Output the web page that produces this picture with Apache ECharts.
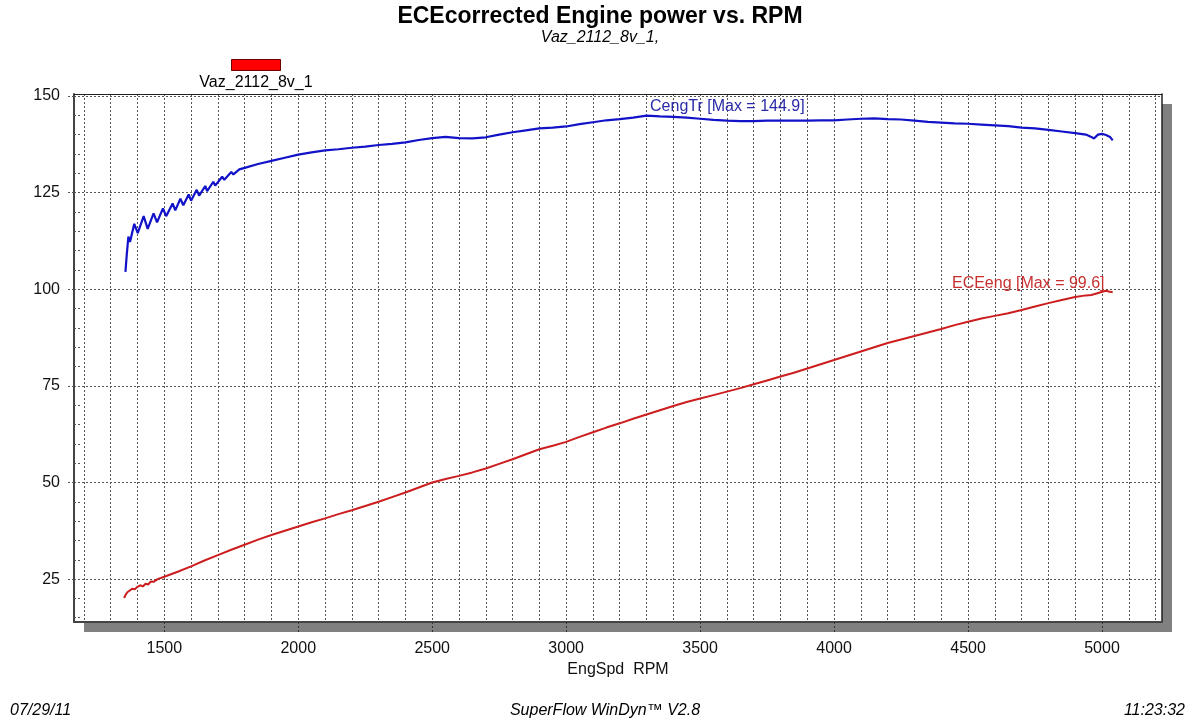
<!DOCTYPE html>
<html>
<head>
<meta charset="utf-8">
<title>ECEcorrected Engine power vs. RPM</title>
<script src="https://cdn.jsdelivr.net/npm/echarts@6/dist/echarts.min.js"></script>
<style>
  html, body { margin: 0; padding: 0; background: #ffffff; }
  #chart { width: 1200px; height: 720px; }
</style>
</head>
<body>
<div id="chart"></div>
<script>
// ---- data ----
const torqueRpm = [1355,1360,1366,1372,1388,1401,1423,1438,1460,1473,1495,1507,1531,1541,1560,1571,1591,1600,1621,1630,1653,1660,1683,1690,1716,1724,1750,1758,1780,1800,1850,1900,1950,2000,2050,2100,2150,2200,2250,2300,2350,2400,2450,2500,2550,2600,2650,2700,2750,2800,2850,2900,2950,3000,3050,3100,3150,3200,3250,3300,3350,3400,3450,3500,3550,3600,3650,3700,3750,3800,3850,3900,3950,4000,4050,4100,4150,4200,4250,4300,4350,4400,4450,4500,4550,4600,4650,4700,4750,4800,4850,4900,4940,4960,4970,4985,5000,5015,5030,5040];
const torqueVal = [104.5,109.0,113.6,112.2,116.9,114.5,118.9,115.6,119.6,117.3,120.9,118.9,122.2,120.4,123.4,121.7,124.5,122.9,125.7,124.2,126.7,125.4,127.8,126.8,129.1,128.3,130.3,129.7,131.0,131.4,132.4,133.2,134.0,134.8,135.4,135.9,136.2,136.6,136.9,137.3,137.6,138.0,138.6,139.1,139.4,139.1,139.0,139.3,140.0,140.6,141.1,141.6,141.8,142.1,142.7,143.2,143.7,144.0,144.4,144.9,144.7,144.6,144.4,144.1,143.8,143.6,143.5,143.5,143.6,143.6,143.6,143.6,143.7,143.7,143.9,144.1,144.2,144.0,143.9,143.6,143.3,143.1,142.9,142.8,142.6,142.4,142.2,141.8,141.6,141.2,140.8,140.4,140.0,139.4,139.0,140.0,140.2,139.9,139.4,138.5];

const powerRpm = [1350,1356,1362,1370,1380,1390,1400,1410,1420,1430,1440,1450,1460,1475,1500,1550,1600,1650,1700,1750,1800,1850,1900,1950,2000,2050,2100,2150,2200,2250,2300,2350,2400,2450,2500,2550,2600,2650,2700,2750,2800,2850,2900,2950,3000,3050,3100,3150,3200,3250,3300,3350,3400,3450,3500,3550,3600,3650,3700,3750,3800,3850,3900,3950,4000,4050,4100,4150,4200,4250,4300,4350,4400,4450,4500,4550,4600,4650,4700,4750,4800,4850,4900,4940,4960,4980,4995,5005,5015,5025,5040];
const powerVal = [20.1,21.0,21.6,22.0,22.5,22.4,23.0,23.4,23.1,23.8,23.6,24.4,24.3,25.0,25.6,26.9,28.3,29.8,31.2,32.6,33.9,35.2,36.4,37.5,38.6,39.7,40.7,41.8,42.8,43.9,45.0,46.2,47.4,48.7,50.0,50.9,51.7,52.6,53.6,54.8,56.0,57.3,58.6,59.5,60.5,61.8,63.0,64.2,65.3,66.5,67.6,68.7,69.8,70.8,71.7,72.6,73.5,74.4,75.4,76.4,77.4,78.4,79.5,80.6,81.7,82.8,83.9,85.0,86.1,87.0,87.9,88.8,89.7,90.7,91.6,92.4,93.1,93.8,94.6,95.5,96.4,97.2,98.0,98.4,98.5,98.9,99.2,99.4,99.6,99.4,99.2];

const xLabelTicks = [1500,2000,2500,3000,3500,4000,4500,5000];
const xGridTicks = [1200,1300,1400,1500,1600,1700,1800,1900,2000,2100,2200,2300,2400,2500,2600,2700,2800,2900,3000,3100,3200,3300,3400,3500,3600,3700,3800,3900,4000,4100,4200,4300,4400,4500,4600,4700,4800,4900,5000,5100,5200];
const yMajorTicks = [25,50,75,100,125,150];
const yMinorTicks = [15,20,30,35,40,45,55,60,65,70,80,85,90,95,105,110,115,120,130,135,140,145];

const runName = 'Vaz_2112_8v_1';
const torqueName = 'CengTr';
const powerName = 'ECEeng';

const torqueData = torqueRpm.map((r, i) => [r, torqueVal[i]]);
const powerData = powerRpm.map((r, i) => [r, powerVal[i]]);

const FONT = '"Liberation Sans", Arial, Helvetica, sans-serif';
const dotted = { color: '#555555', width: 1, type: [2, 2] };
const X_MIN = 1163, X_MAX = 5224, Y_MIN = 13.9, Y_MAX = 150.5;

const chart = echarts.init(document.getElementById('chart'), null, { renderer: 'canvas' });

const frameAxisX = {
  type: 'value', min: X_MIN, max: X_MAX, position: 'top',
  axisLine: { show: true, onZero: false, lineStyle: { color: '#222222', width: 1 } },
  axisTick: { show: false }, axisLabel: { show: false }, splitLine: { show: false }
};
const frameAxisY = {
  type: 'value', min: Y_MIN, max: Y_MAX, position: 'right',
  axisLine: { show: true, onZero: false, lineStyle: { color: '#222222', width: 1.5 } },
  axisTick: { show: false }, axisLabel: { show: false }, splitLine: { show: false }
};

const option = {
  animation: false,
  backgroundColor: '#ffffff',
  textStyle: { fontFamily: FONT },
  title: [
    { text: 'ECEcorrected Engine power vs. RPM', left: 'center', top: 5, padding: 0,
      textStyle: { fontFamily: FONT, fontSize: 23, fontWeight: 'bold', color: '#000' } },
    { text: 'Vaz_2112_8v_1,', left: 'center', top: 30, padding: 0,
      textStyle: { fontFamily: FONT, fontSize: 16, fontStyle: 'italic', fontWeight: 'normal', color: '#000' } }
  ],
  legend: {
    left: 226, top: 54,
    itemWidth: 49, itemHeight: 11,
    formatter: () => '',
    data: [{ name: runName, icon: 'rect', itemStyle: { color: '#ff0000', borderColor: '#700000', borderWidth: 1 } }]
  },
  graphic: [
    { type: 'text', x: 256, y: 82.5, silent: true,
      style: { text: runName, fill: '#000', font: '16px ' + FONT, textAlign: 'center', textVerticalAlign: 'middle' } },
    { type: 'text', x: 10, y: 711, silent: true,
      style: { text: '07/29/11', fill: '#000', font: 'italic 16px ' + FONT, textAlign: 'left', textVerticalAlign: 'middle' } },
    { type: 'text', x: 605, y: 711, silent: true,
      style: { text: 'SuperFlow WinDyn\u2122 V2.8', fill: '#000', font: 'italic 16px ' + FONT, textAlign: 'center', textVerticalAlign: 'middle' } },
    { type: 'text', x: 1185, y: 711, silent: true,
      style: { text: '11:23:32', fill: '#000', font: 'italic 16px ' + FONT, textAlign: 'right', textVerticalAlign: 'middle' } }
  ],
  grid: {
    show: true,
    left: 74, right: 38, top: 94, bottom: 98,
    backgroundColor: '#ffffff',
    borderWidth: 0,
    shadowColor: '#808080', shadowBlur: 0, shadowOffsetX: 10, shadowOffsetY: 10
  },
  xAxis: [
    {
      type: 'value', min: X_MIN, max: X_MAX, position: 'bottom',
      name: 'EngSpd  RPM', nameLocation: 'middle', nameGap: 37,
      nameTextStyle: { fontFamily: FONT, fontSize: 16, color: '#111' },
      axisLine: { show: true, onZero: false, lineStyle: { color: '#444444', width: 2 } },
      axisTick: { show: true, customValues: xLabelTicks, length: 10, lineStyle: { color: '#333333', width: 1, type: [2, 2] } },
      axisLabel: { customValues: xLabelTicks, margin: 19, fontFamily: FONT, fontSize: 16, color: '#111',
                   formatter: (v) => String(v) },
      splitLine: { show: false }
    },
    {
      type: 'value', min: X_MIN, max: X_MAX, position: 'bottom',
      axisLine: { show: false },
      axisTick: { show: false, customValues: xGridTicks },
      axisLabel: { show: false, customValues: xGridTicks },
      splitLine: { show: true, lineStyle: dotted }
    },
    frameAxisX
  ],
  yAxis: [
    {
      type: 'value', min: Y_MIN, max: Y_MAX, position: 'left',
      axisLine: { show: true, onZero: false, lineStyle: { color: '#444444', width: 2 } },
      axisTick: { show: true, customValues: yMajorTicks, length: 7, lineStyle: { color: '#555555', width: 1, type: [2, 2] } },
      axisLabel: { customValues: yMajorTicks, margin: 14, fontFamily: FONT, fontSize: 16, color: '#111',
                   formatter: (v) => String(v) },
      splitLine: { show: true, lineStyle: dotted }
    },
    {
      type: 'value', min: Y_MIN, max: Y_MAX, position: 'left',
      axisLine: { show: false },
      axisTick: { show: true, inside: true, customValues: yMinorTicks, length: 8, lineStyle: { color: '#555555', width: 1, type: [2, 2] } },
      axisLabel: { show: false, customValues: yMinorTicks },
      splitLine: { show: false }
    },
    frameAxisY
  ],
  series: [
    {
      name: runName, type: 'line', data: [], itemStyle: { color: '#ff0000' }
    },
    {
      name: torqueName, type: 'line', xAxisIndex: 0, yAxisIndex: 0,
      data: torqueData, showSymbol: false, symbol: 'none', z: 5,
      lineStyle: { color: '#1212c8', width: 2.2 }, itemStyle: { color: '#1212c8' },
      markPoint: {
        symbol: 'circle', symbolSize: 1, itemStyle: { color: 'rgba(0,0,0,0)' },
        data: [{ type: 'max', name: 'max' }],
        label: {
          show: true, position: 'right', distance: 3, offset: [0, -9],
          formatter: (p) => torqueName + ' [Max = ' + p.value.toFixed(1) + ']',
          fontFamily: FONT, fontSize: 16, color: '#2a2aa8'
        }
      }
    },
    {
      name: powerName, type: 'line', xAxisIndex: 0, yAxisIndex: 0,
      data: powerData, showSymbol: false, symbol: 'none', z: 5,
      lineStyle: { color: '#cc1e1e', width: 2 }, itemStyle: { color: '#cc1e1e' },
      markPoint: {
        symbol: 'circle', symbolSize: 1, itemStyle: { color: 'rgba(0,0,0,0)' },
        data: [{ type: 'max', name: 'max' }],
        label: {
          show: true, position: 'left', distance: 1, offset: [0, -7],
          formatter: (p) => powerName + ' [Max = ' + p.value.toFixed(1) + ']',
          fontFamily: FONT, fontSize: 16, color: '#c83030'
        }
      }
    }
  ]
};

chart.setOption(option);
</script>
</body>
</html>
